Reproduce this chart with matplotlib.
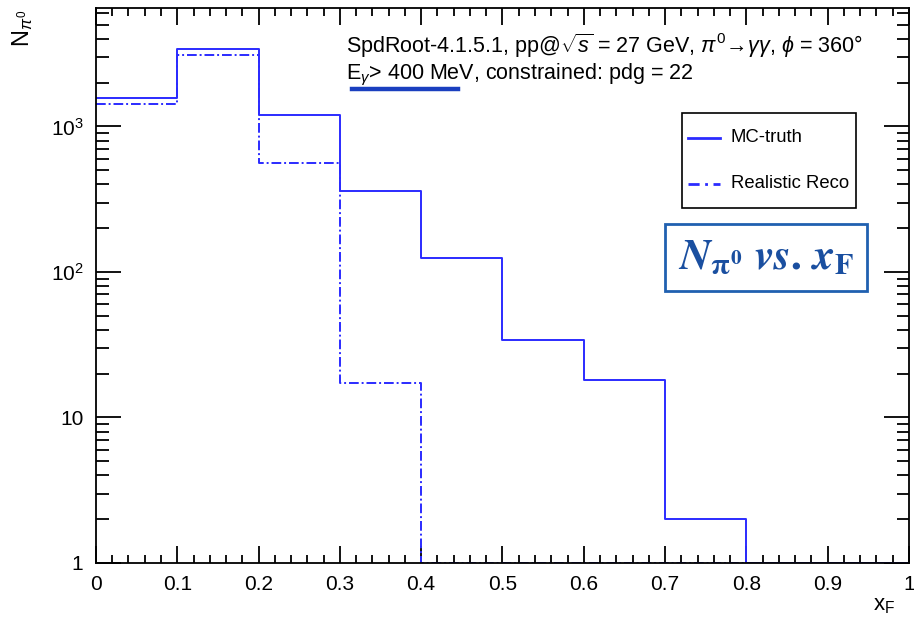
import matplotlib.pyplot as plt
import numpy as np
from matplotlib.patches import Rectangle
from matplotlib.lines import Line2D

plt.rcParams['font.family'] = ['Liberation Sans', 'DejaVu Sans']
plt.rcParams['mathtext.fontset'] = 'custom'
plt.rcParams['mathtext.rm'] = 'Liberation Sans'
plt.rcParams['mathtext.it'] = 'Liberation Sans:italic'
plt.rcParams['mathtext.bf'] = 'Liberation Sans:bold'

# bins in x_F and counts
bin_edges = [0.0, 0.1, 0.2, 0.3, 0.4, 0.5, 0.6, 0.7, 0.8, 0.9, 1.0]
mc_truth = [1560, 3390, 1195, 360, 124, 34, 18, 2.0, 0, 0]
reco = [1420, 3080, 560, 17.2, 0, 0, 0, 0, 0, 0]

ytick_vals = [1, 10, 100, 1000]
ytick_labels = ['1', '10', r'$10^{2}$', r'$10^{3}$']
xtick_vals = [0, 0.1, 0.2, 0.3, 0.4, 0.5, 0.6, 0.7, 0.8, 0.9, 1]
xtick_labels = ['0', '0.1', '0.2', '0.3', '0.4', '0.5', '0.6', '0.7', '0.8', '0.9', '1']

blue = '#2b2bff'
ymin, ymax = 1, 6500

fig = plt.figure(figsize=(9.14, 6.22), dpi=100)
ax = fig.add_axes([0.105, 0.0949, 0.8895, 0.892])

def steps(vals):
    v = np.where(np.array(vals) > 0, vals, ymin)
    return np.append(v, v[-1])

ax.step(bin_edges, steps(mc_truth), where='post', color=blue, lw=1.4)
ax.step(bin_edges, steps(reco), where='post', color=blue, lw=1.4, ls=(0, (5, 1.5, 1, 1.5)))

ax.set_yscale('log')
ax.set_xlim(0, 1)
ax.set_ylim(ymin, ymax)
ax.set_yticks(ytick_vals, ytick_labels)
ax.set_yticks([m * 10**e for e in range(0, 4) for m in range(2, 10) if m * 10**e < ymax], minor=True)
ax.set_xticks(xtick_vals, xtick_labels)
ax.set_xticks(np.arange(0, 1.001, 0.02), minor=True)
ax.yaxis.set_minor_formatter(plt.NullFormatter())

ax.tick_params(which='both', direction='in', top=True, right=True, labelsize=15, width=1.3, color='black')
ax.tick_params(axis='x', which='major', length=12, pad=9)
ax.tick_params(axis='x', which='minor', length=6)
ax.tick_params(axis='y', which='major', length=18, pad=9)
ax.tick_params(axis='y', which='minor', length=9)
for s in ax.spines.values():
    s.set_linewidth(1.3)

fig.text(0.979, 0.027, r'x$_{\mathrm{F}}$', fontsize=16, ha='right', va='center')
fig.text(0.025, 0.985, r'N$_{\pi^{0}}$', fontsize=17, rotation=90, ha='center', va='top')

fig.text(0.379, 0.927, r'SpdRoot-4.1.5.1, pp@$\sqrt{s}$ = 27 GeV, $\pi^{0}\!\rightarrow\!\gamma\gamma$, $\phi$ = 360°',
         fontsize=15.5, ha='left', va='center')
fig.text(0.379, 0.879, r'E$_{\gamma}$> 400 MeV, constrained: pdg = 22', fontsize=15.5, ha='left', va='center')
fig.add_artist(Line2D([352 / 914, 458 / 914], [1 - 89 / 622, 1 - 89 / 622], color='#1a3fbf', lw=3.2))

# legend box
fig.add_artist(Rectangle((682 / 914, 1 - 208 / 622), 174 / 914, 95 / 622, fill=False, ec='black', lw=1.2))
fig.add_artist(Line2D([688 / 914, 720 / 914], [1 - 138 / 622] * 2, color=blue, lw=2))
fig.add_artist(Line2D([688 / 914, 720 / 914], [1 - 184 / 622] * 2, color=blue, lw=2, ls=(0, (4, 2, 1, 2))))
fig.text(731 / 914, 1 - 138 / 622, 'MC-truth', fontsize=13.3, va='center')
fig.text(731 / 914, 1 - 184 / 622, 'Realistic Reco', fontsize=13.3, va='center')

# title box
fig.add_artist(Rectangle((665 / 914, 1 - 291 / 622), 202 / 914, 67 / 622, fill=False, ec='#2060b0', lw=2))
fig.text(766 / 914, 1 - 258 / 622, r'$\mathbfit{N}_{\mathbf{\pi^{0}}}\ \mathbfit{vs}\mathbf{.}\,\mathbfit{x}_{\mathbf{F}}$',
         fontsize=31, color='#1a4fa0', ha='center', va='center', math_fontfamily='stix')

fig.savefig('out.png', dpi=100)
